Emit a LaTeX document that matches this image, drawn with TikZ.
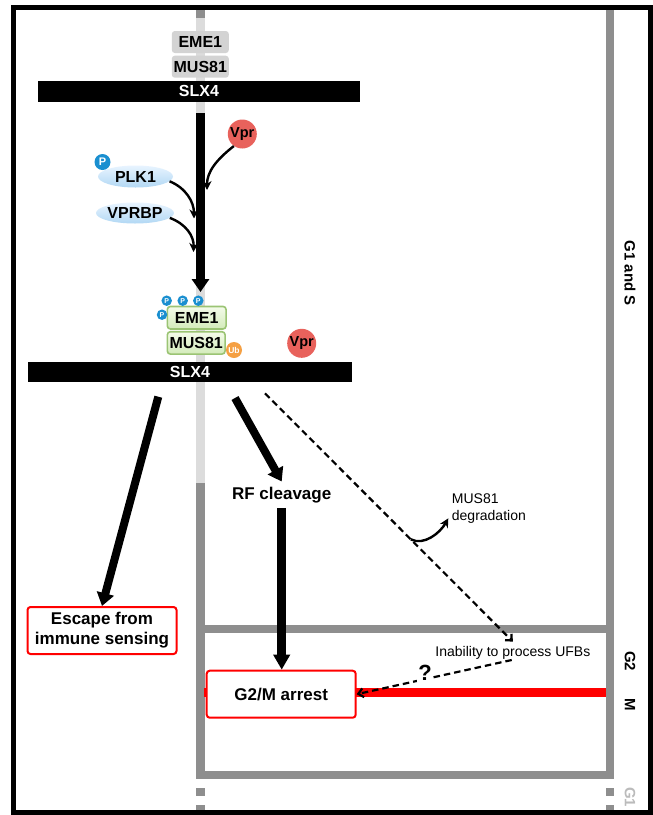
\documentclass[tikz,border=0pt]{standalone}
\usepackage{fontspec}
\setmainfont{Liberation Sans}
\usetikzlibrary{arrows.meta,shapes.geometric}
\definecolor{dgray}{HTML}{8E8E8E}
\definecolor{lgray}{HTML}{DCDCDC}
\definecolor{boxgray}{HTML}{D3D3D3}
\definecolor{vprred}{HTML}{E8625C}
\definecolor{pblue}{HTML}{1A8FD0}
\definecolor{ubor}{HTML}{F5A043}
\definecolor{gborder}{HTML}{9BC474}
\definecolor{gtop}{HTML}{F4FBEA}
\definecolor{gbot}{HTML}{D3EBBA}
\definecolor{btop}{HTML}{E8F4FF}
\definecolor{bbot}{HTML}{B2D8F4}
\definecolor{myred}{HTML}{FF0000}
\definecolor{lightlabel}{HTML}{BBBBBB}
\begin{document}
\begin{tikzpicture}[x=1pt,y=-1pt,
  graybox/.style={fill=boxgray, rounded corners=3pt, minimum width=57pt, minimum height=22pt, inner sep=0pt, font=\bfseries\fontsize{16}{18}\selectfont},
  greenbox/.style={draw=gborder, line width=1.6pt, top color=gtop, bottom color=gbot, rounded corners=3pt, minimum height=22.5pt, inner sep=0pt, font=\bfseries\fontsize{16}{18}\selectfont},
  blackbar/.style={fill=black, text=white, minimum height=20.5pt, inner sep=0pt, font=\bfseries\fontsize{16}{18}\selectfont},
  vprnode/.style={circle, fill=vprred, minimum size=29pt, inner sep=0pt, font=\bfseries\fontsize{14.5}{16}\selectfont},
  pnode/.style={circle, fill=pblue, text=white, minimum size=10.5pt, inner sep=0pt, font=\bfseries\fontsize{7}{8}\selectfont},
  protell/.style={ellipse, top color=btop, bottom color=bbot, minimum height=22pt, inner sep=0pt, font=\bfseries\fontsize{16}{18}\selectfont},
  redbox/.style={draw=myred, line width=2pt, fill=white, rounded corners=3pt, inner sep=0pt, minimum height=47pt, minimum width=149pt, font=\bfseries\fontsize{17}{20}\selectfont, align=center},
  bigarrow/.style={line width=8pt, -{Triangle[length=13pt,width=17pt]}},
  thinarrow/.style={line width=2.4pt, -{Stealth[length=9pt,width=9pt]}},
  dasharrow/.style={line width=2.2pt, dash pattern=on 6.5pt off 4pt, -{Straight Barb[length=5pt,width=9pt]}},
  phase/.style={rotate=-90, font=\bfseries\fontsize{15}{17}\selectfont},
  plain/.style={font=\fontsize{14}{16.5}\selectfont}
]
\useasboundingbox (0,0) rectangle (653,815);
\fill[white] (0,0) rectangle (653,815);

% cell-cycle frame (gray lines)
\draw[line width=8.5pt, dgray] (200.5,10) -- (200.5,18);
\draw[line width=8.5pt, lgray] (200.5,18) -- (200.5,483);
\draw[line width=8.5pt, dgray] (200.5,483) -- (200.5,778.5);
\draw[line width=8pt, dgray] (610,10) -- (610,778.5);
\draw[line width=8pt, dgray] (196.5,629) -- (614,629);
\draw[line width=8pt, dgray] (196.5,774.5) -- (614,774.5);
\fill[dgray] (196.2,788) rectangle (204.8,796);
\fill[dgray] (196.2,805) rectangle (204.8,812);
\fill[dgray] (606,788) rectangle (614,796);
\fill[dgray] (606,805) rectangle (614,812);

% red arrest line
\draw[line width=8.5pt, myred] (204,692.5) -- (606,692.5);

% outer border
\draw[line width=5pt] (13.5,7.5) rectangle (650.5,812.5);

% phase labels
\node[phase] (ps1) at (630,273) {G1 and S};
\node[phase] (ps2) at (630,661) {G2};
\node[phase] (ps3) at (630,705) {M};
\node[phase, text=lightlabel] (ps4) at (630,797) {G1};

% top complex
\node[graybox] (emeA) at (200.3,42) {EME1};
\node[graybox] (musA) at (200.3,66.7) {MUS81};
\node[blackbar, minimum width=322pt] (slxA) at (199,91.3) {SLX4};

% modifiers
\node[vprnode] (vprA) at (242.3,134) {Vpr};
\node[protell, minimum width=75pt] (plk) at (135.5,176.5) {PLK1};
\node[pnode, minimum size=16pt, font=\bfseries\fontsize{11}{12}\selectfont] (pplk) at (102.5,162) {P};
\node[protell, minimum width=77pt, minimum height=21pt] (vprbp) at (135,213) {VPRBP};

% modified complex
\node[greenbox, minimum width=58.7pt] (emeB) at (196.7,317.7) {EME1};
\node[greenbox, minimum width=57.7pt, minimum height=22.3pt] (musB) at (196.2,342.9) {MUS81};
\node[pnode] (pa) at (166.7,300.7) {P};
\node[pnode] (pb) at (182.7,300.7) {P};
\node[pnode] (pc) at (198.3,300.7) {P};
\node[pnode] (pd) at (162,314.7) {P};
\node[circle, fill=ubor, text=white, minimum size=16pt, inner sep=0pt, font=\bfseries\fontsize{8.5}{9}\selectfont] (ub) at (234,350) {Ub};
\node[vprnode] (vprB) at (301.7,343.3) {Vpr};
\node[blackbar, minimum width=324pt] (slxB) at (190,372) {SLX4};

% main vertical arrow
\coordinate (arrtop) at (200.5,113);
\coordinate (arrtip) at (200.5,292);
\draw[line width=9pt, -{Triangle[length=13pt,width=17pt]}] (arrtop) -- (arrtip);

% curved input arrows
\coordinate (vprtip) at (207,190);
\coordinate (plktip) at (194,218.5);
\coordinate (vprbptip) at (193.5,252);
\draw[thinarrow] (vprA.235) .. controls (216,160) and (207,172) .. (vprtip);
\draw[thinarrow] (plk.-8) .. controls (186,188) and (194,202) .. (plktip);
\draw[thinarrow] (vprbp.-8) .. controls (186,224) and (194,236) .. (vprbptip);

% outcome nodes
\node[redbox] (esc) at (102,630.5) {Escape from\\immune sensing};
\node[redbox] (arrest) at (281.2,694.2) {G2/M arrest};
\node[anchor=base, inner xsep=0pt, inner ysep=5pt, font=\bfseries\fontsize{17}{20}\selectfont] (rf) at (281.7,499) {RF cleavage};
\node[plain, anchor=base, inner xsep=0pt, inner ysep=4.5pt] (ufb) at (512.9,656.5) {Inability to process UFBs};
\node[plain, anchor=north west, align=left, inner sep=0pt] (deg) at (451.7,494) {MUS81\\degradation};

% outcome arrows
\coordinate (escstart) at (158.3,396.7);
\coordinate (rfstart) at (235,398);
\coordinate (dstart) at (265,393.3);
\draw[bigarrow] (escstart) -- (esc.north);
\draw[bigarrow] (rfstart) -- (rf.north);
\draw[line width=9pt, -{Triangle[length=15pt,width=16pt]}] (rf.south) -- (rf.south |- arrest.north);
\draw[dasharrow] (dstart) -- coordinate[pos=0.588] (dmid) (ufb.north);
\coordinate (degtip) at (448.3,518.3);
\draw[thinarrow] (dmid) .. controls (424,546) and (440,533) .. (degtip);
\coordinate (ufbstart) at (511.7,660);
\draw[dasharrow] (ufbstart) -- (arrest.east);
\node[fill=white, inner sep=1pt, font=\bfseries\fontsize{22}{24}\selectfont] (q) at (425,673) {?};
\end{tikzpicture}
\end{document}
